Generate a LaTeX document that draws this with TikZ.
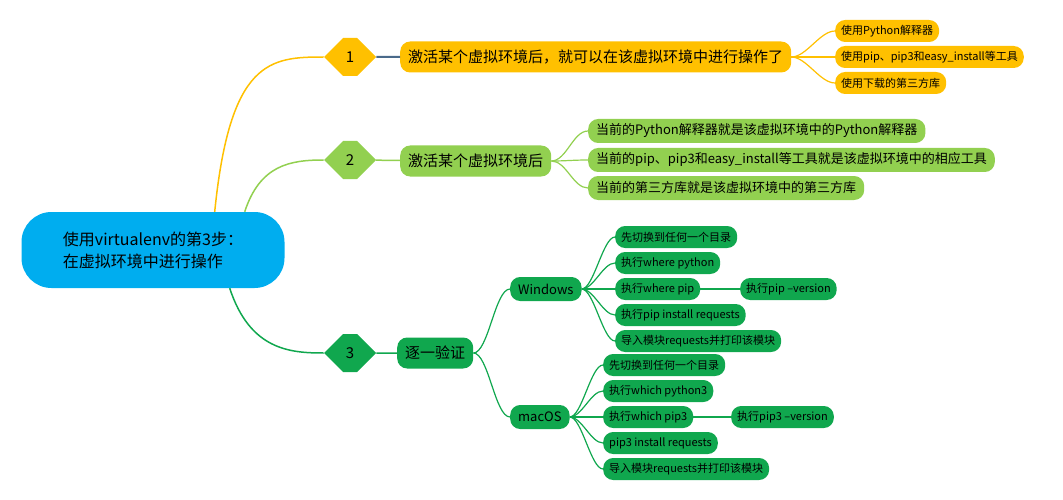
\documentclass[tikz,border=0pt]{standalone}
\usepackage{fontspec}
\setmainfont{Noto Sans CJK SC}
\usetikzlibrary{shapes.symbols,positioning}
\definecolor{rootc}{HTML}{00ADEF}
\definecolor{yel}{HTML}{FFC000}
\definecolor{lgr}{HTML}{92D050}
\definecolor{dgr}{HTML}{10A74E}
\definecolor{slate}{HTML}{4A6A8A}
\begin{document}
\begin{tikzpicture}[
    x=1pt, y=-1pt,
    pill/.style={rectangle, rounded corners=10pt, inner xsep=8pt, inner ysep=0pt, text=black},
    big/.style={pill, minimum height=31pt, font=\fontsize{15}{17}\selectfont},
    mid/.style={pill, minimum height=24pt, font=\fontsize{13}{15}\selectfont},
    small/.style={pill, minimum height=22pt, inner xsep=6pt, font=\fontsize{11}{13}\selectfont},
    hex/.style={signal, signal to=east and west, minimum width=52pt, minimum height=38pt, inner sep=0pt, font=\fontsize{15}{17}\selectfont},
    link/.style={line width=1.5pt},
    twig/.style={line width=1.2pt}
]
    \useasboundingbox (0,0) rectangle (1063,500);

    % --- root ---
    \node[pill, fill=rootc, rounded corners=30pt, minimum width=263pt, minimum height=76pt, align=left, font=\fontsize{16}{22}\selectfont] (root) at (153,250) {使用virtualenv的第3步：\\在虚拟环境中进行操作};

    % --- branch 1 ---
    \node[hex, fill=yel] (h1) at (350,57) {1};
    \node[big, fill=yel, anchor=west] (b1) at (400,57) {激活某个虚拟环境后，就可以在该虚拟环境中进行操作了};
    \node[small, fill=yel, anchor=west] (b1a) at (835,31) {使用Python解释器};
    \node[small, fill=yel, anchor=west] (b1b) at (835,57) {使用pip、pip3和easy\_install等工具};
    \node[small, fill=yel, anchor=west] (b1c) at (835,83) {使用下载的第三方库};

    % --- branch 2 ---
    \node[hex, fill=lgr] (h2) at (350,160) {2};
    \node[big, fill=lgr, anchor=west] (b2) at (400,161) {激活某个虚拟环境后};
    \node[mid, fill=lgr, anchor=west] (b2a) at (588,131) {当前的Python解释器就是该虚拟环境中的Python解释器};
    \node[mid, fill=lgr, anchor=west] (b2b) at (588,160) {当前的pip、pip3和easy\_install等工具就是该虚拟环境中的相应工具};
    \node[mid, fill=lgr, anchor=west] (b2c) at (588,188) {当前的第三方库就是该虚拟环境中的第三方库};

    % --- branch 3 ---
    \node[hex, fill=dgr] (h3) at (350,353) {3};
    \node[big, fill=dgr, anchor=west] (b3) at (397,353) {逐一验证};
    \node[mid, fill=dgr, anchor=west] (win) at (510,289) {Windows};
    \node[mid, fill=dgr, anchor=west] (mac) at (510,417) {macOS};

    \node[small, fill=dgr, anchor=west] (w1) at (615,237) {先切换到任何一个目录};
    \node[small, fill=dgr, anchor=west] (w2) at (615,263) {执行where python};
    \node[small, fill=dgr, anchor=west] (w3) at (615,289) {执行where pip};
    \node[small, fill=dgr, anchor=west] (w3a) at (740,289) {执行pip --version};
    \node[small, fill=dgr, anchor=west] (w4) at (615,315) {执行pip install requests};
    \node[small, fill=dgr, anchor=west] (w5) at (615,341) {导入模块requests并打印该模块};

    \node[small, fill=dgr, anchor=west] (m1) at (603,365) {先切换到任何一个目录};
    \node[small, fill=dgr, anchor=west] (m2) at (603,391) {执行which python3};
    \node[small, fill=dgr, anchor=west] (m3) at (603,417) {执行which pip3};
    \node[small, fill=dgr, anchor=west] (m3a) at (731,417) {执行pip3 --version};
    \node[small, fill=dgr, anchor=west] (m4) at (603,443) {pip3 install requests};
    \node[small, fill=dgr, anchor=west] (m5) at (603,469) {导入模块requests并打印该模块};

    % main branches
    \draw[link, yel] (root.north east) ++(-70,0) .. controls (230,60) and (270,57) .. (h1.west);
    \draw[link, lgr] (root.north east) ++(-40,0) .. controls (260,165) and (290,160) .. (h2.west);
    \draw[link, dgr] (root.south east) ++(-55,0) .. controls (250,350) and (290,353) .. (h3.west);
    \draw[line width=2pt, slate] (h1) -- (b1);
    \draw[link, lgr] (h2) -- (b2);
    \draw[link, dgr] (h3) -- (b3);

    % twigs
    \foreach \c in {b1a,b1b,b1c}
        \draw[twig, yel] (b1.east) .. controls +(15,0) and +(-15,0) .. (\c.west);
    \foreach \c in {b2a,b2b,b2c}
        \draw[twig, lgr] (b2.east) .. controls +(15,0) and +(-15,0) .. (\c.west);
    \foreach \c in {win,mac}
        \draw[twig, dgr] (b3.east) .. controls +(15,0) and +(-15,0) .. (\c.west);
    \foreach \c in {w1,w2,w3,w4,w5}
        \draw[twig, dgr] (win.east) .. controls +(12,0) and +(-12,0) .. (\c.west);
    \foreach \c in {m1,m2,m3,m4,m5}
        \draw[twig, dgr] (mac.east) .. controls +(12,0) and +(-12,0) .. (\c.west);
    \draw[twig, dgr] (w3) -- (w3a);
    \draw[twig, dgr] (m3) -- (m3a);
\end{tikzpicture}
\end{document}
